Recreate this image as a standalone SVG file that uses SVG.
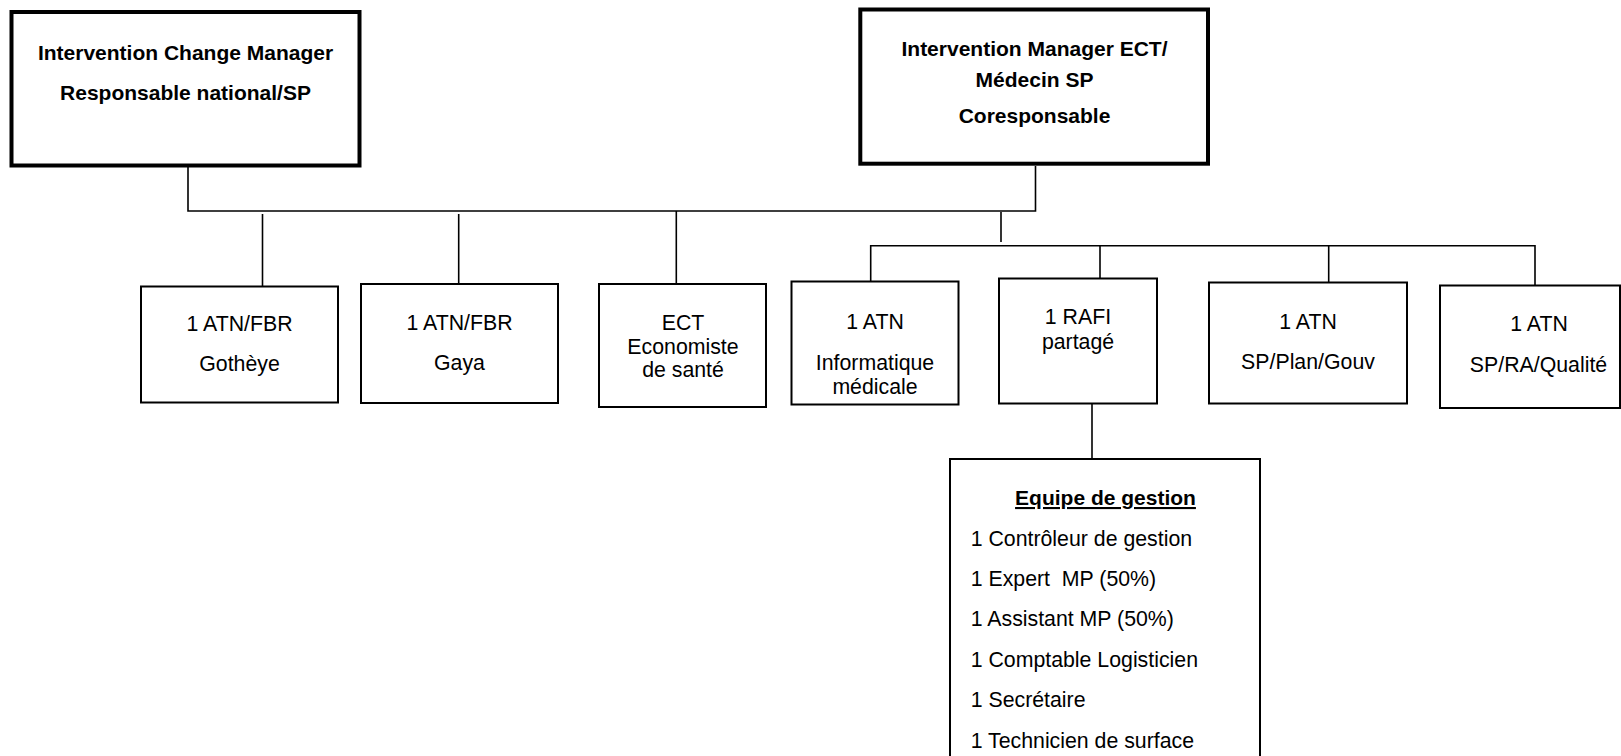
<svg xmlns="http://www.w3.org/2000/svg" width="1621" height="756" viewBox="0 0 1621 756">
  <style>
    .lead { fill: #fff; stroke: #000; stroke-width: 4; }
    .box { fill: #fff; stroke: #000; stroke-width: 2; }
    .wire { fill: none; stroke: #000; stroke-width: 1.6; }
    text { font-family: "Liberation Sans", Arial, sans-serif; font-size: 21.3px; fill: #000; }
    .b { font-weight: bold; font-size: 21px; }
    .c { text-anchor: middle; }
  </style>
  <rect width="1621" height="756" fill="#fff"/>

  <!-- connectors -->
  <g id="connectors" class="wire">
    <polyline points="188,167 188,211 1035.5,211 1035.5,166"/>
    <line x1="262.5" y1="214" x2="262.5" y2="286"/>
    <line x1="458.7" y1="214" x2="458.7" y2="284"/>
    <line x1="676.3" y1="211" x2="676.3" y2="284"/>
    <line x1="1001" y1="212" x2="1001" y2="242"/>
    <polyline points="870.7,281.5 870.7,245.7 1535,245.7 1535,285.5"/>
    <line x1="1100" y1="245.7" x2="1100" y2="278.5"/>
    <line x1="1328.7" y1="245.7" x2="1328.7" y2="282.5"/>
    <line x1="1092" y1="404" x2="1092" y2="459"/>
  </g>

  <!-- top level -->
  <g id="change-manager">
    <rect class="lead" x="11.5" y="12" width="348" height="153.5"/>
    <text class="b c" x="185.5" y="60">Intervention Change Manager</text>
    <text class="b c" x="185.5" y="100">Responsable national/SP</text>
  </g>
  <g id="manager-ect">
    <rect class="lead" x="860.3" y="9.5" width="347.7" height="154.2"/>
    <text class="b c" x="1034.5" y="56">Intervention Manager ECT/</text>
    <text class="b c" x="1034.5" y="87">Médecin SP</text>
    <text class="b c" x="1034.5" y="123">Coresponsable</text>
  </g>

  <!-- second level -->
  <g id="atn-gotheye">
    <rect class="box" x="141" y="286.5" width="197" height="116"/>
    <text class="c" x="239.5" y="331">1 ATN/FBR</text>
    <text class="c" x="239.5" y="371">Gothèye</text>
  </g>
  <g id="atn-gaya">
    <rect class="box" x="361" y="284" width="197" height="119"/>
    <text class="c" x="459.5" y="330">1 ATN/FBR</text>
    <text class="c" x="459.5" y="370">Gaya</text>
  </g>
  <g id="ect-economiste">
    <rect class="box" x="599" y="284" width="167" height="123"/>
    <text class="c" x="683" y="330">ECT</text>
    <text class="c" x="683" y="353.5">Economiste</text>
    <text class="c" x="683" y="377">de santé</text>
  </g>
  <g id="atn-informatique">
    <rect class="box" x="791.5" y="281.5" width="167" height="123"/>
    <text class="c" x="875" y="328.5">1 ATN</text>
    <text class="c" x="875" y="370">Informatique</text>
    <text class="c" x="875" y="393.5">médicale</text>
  </g>
  <g id="rafi">
    <rect class="box" x="999" y="278.5" width="158" height="125"/>
    <text class="c" x="1078" y="323.5">1 RAFI</text>
    <text class="c" x="1078" y="348.5">partagé</text>
  </g>
  <g id="atn-plan">
    <rect class="box" x="1209" y="282.5" width="198" height="121"/>
    <text class="c" x="1308" y="328.5">1 ATN</text>
    <text class="c" x="1308" y="368.5">SP/Plan/Gouv</text>
  </g>
  <g id="atn-qualite">
    <rect class="box" x="1440" y="285.5" width="180" height="122.5"/>
    <text class="c" x="1539" y="330.7">1 ATN</text>
    <text class="c" x="1538.5" y="371.5">SP/RA/Qualité</text>
  </g>

  <!-- management team -->
  <g id="equipe-gestion">
    <rect class="box" x="950" y="459" width="310" height="310"/>
    <text class="b c" x="1105.5" y="505" text-decoration="underline">Equipe de gestion</text>
    <text x="970.7" y="545.5">1 Contrôleur de gestion</text>
    <text x="970.7" y="585.9" xml:space="preserve">1 Expert  MP (50%)</text>
    <text x="970.7" y="626.3">1 Assistant MP (50%)</text>
    <text x="970.7" y="666.7">1 Comptable Logisticien</text>
    <text x="970.7" y="707.1">1 Secrétaire</text>
    <text x="970.7" y="747.5">1 Technicien de surface</text>
  </g>
</svg>
